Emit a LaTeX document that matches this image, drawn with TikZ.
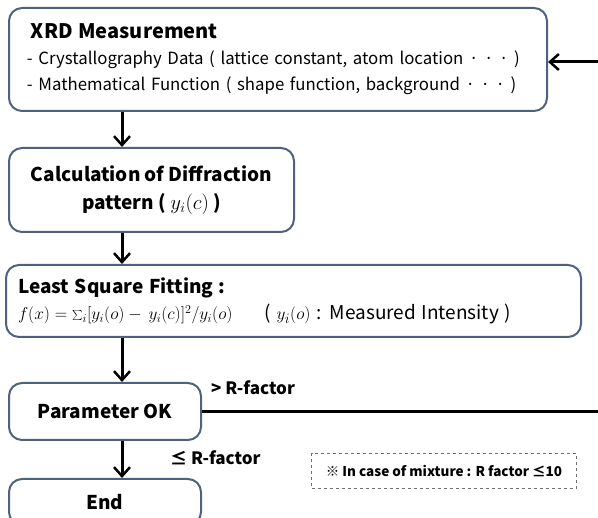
\documentclass[tikz,border=0pt]{standalone}
\usepackage{fontspec}
\setmainfont{Noto Sans CJK KR}
\usetikzlibrary{arrows.meta,positioning}
\definecolor{boxline}{RGB}{78,98,128}
\definecolor{notegray}{RGB}{110,110,110}

\begin{document}
\begin{tikzpicture}[x=1pt, y=-1pt,
  font=\fontsize{16.8}{26}\selectfont,
  box/.style={draw=boxline, line width=2pt, rounded corners=13pt, fill=white, inner sep=0pt},
  head/.style={font=\fontsize{19}{28}\selectfont\bfseries},
  lbl/.style={font=\fontsize{17}{20}\selectfont\bfseries, inner sep=0pt},
  arr/.style={-{Straight Barb[length=9pt, width=16pt, line width=2.5pt]}, line width=3pt},
  link/.style={line width=3pt},
  note/.style={draw=notegray, dashed, line width=0.8pt, inner xsep=14pt, inner ysep=12pt,
               font=\fontsize{13.5}{18}\selectfont\bfseries}]
\useasboundingbox (0,0) rectangle (598,518);
\coordinate (col) at (122,0);
\coordinate (fb) at (598,62);
\coordinate (redge) at (598,0);
% main chain
\node[box, anchor=north west, minimum width=538pt, minimum height=103pt, inner xsep=18pt,
      text width=502pt, align=left] (xrd) at (8,7)
  {{\fontsize{20}{28}\selectfont\bfseries\hspace*{4pt}XRD Measurement}\\
   - Crystallography Data ( lattice constant, atom location · · · )\\
   - Mathematical Function ( shape function, background · · · )};
\node[box, head, below=35pt of xrd.south west, anchor=north west, minimum width=285pt, minimum height=84pt,
      align=center] (calc) {Calculation of Diffraction\\pattern ( {\fontsize{22}{28}\selectfont$y_i(c)$} )};
\node[box, below=31pt of calc.south west, anchor=north west, xshift=-3pt, minimum width=575pt,
      minimum height=72pt, inner xsep=12pt, text width=551pt, align=left] (lsf)
  {{\fontsize{19}{30}\selectfont\bfseries Least Square Fitting :}\\
   {\fontsize{16.5}{26}\selectfont $f(x) = \sum_i [y_i(o) - \, y_i(c)]^2/y_i(o)$}\hspace{32pt}%
   {\fontsize{19}{26}\selectfont ( $y_i(o)$ : Measured Intensity )}};
\node[box, head, below=44pt of lsf.south west, anchor=north west, xshift=3pt, minimum width=192pt,
      minimum height=57pt] (param) {Parameter OK};
\node[box, head, below=37pt of param.south west, anchor=north west, minimum width=192pt,
      minimum height=46pt] (end) {End};
\node[note] (mix) at (444,471) {※ In case of mixture : R factor ≤10};
% connectors
\draw[arr] (col |- xrd.south) -- (col |- calc.north);
\draw[arr] (col |- calc.south) -- (col |- lsf.north);
\draw[arr] (col |- lsf.south) -- (col |- param.north);
\draw[arr] (col |- param.south) -- (col |- end.north);
\draw[link] (param.east) -- (param.east -| redge);
\draw[arr] (fb) -- (fb -| xrd.east);
\node[lbl, anchor=west] (gt) at (211,388) {> R-factor};
\node[lbl, anchor=west] (le) at (170,458) {≤ R-factor};
\end{tikzpicture}
\end{document}
